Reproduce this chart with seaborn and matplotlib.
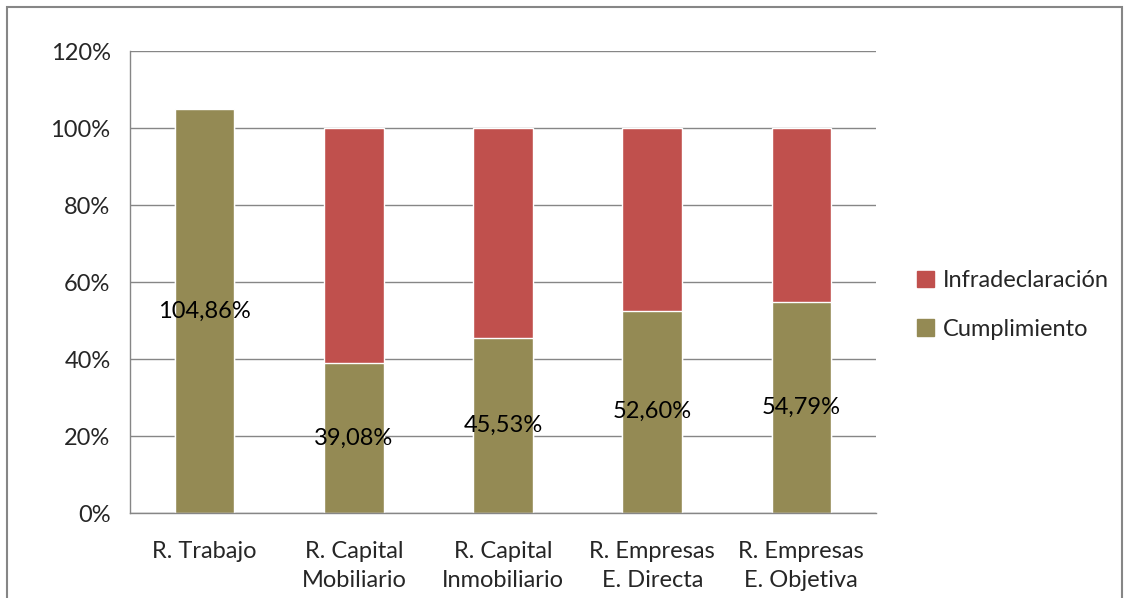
import pandas as pd
import seaborn as sns
from matplotlib import pyplot as plt
from matplotlib.patches import Patch, Rectangle
from matplotlib.ticker import FixedLocator, PercentFormatter

# Datos
categorias = ['R. Trabajo', 'R. Capital\nMobiliario', 'R. Capital\nInmobiliario',
              'R. Empresas\nE. Directa', 'R. Empresas\nE. Objetiva']
cumplimiento = [104.86, 39.08, 45.53, 52.60, 54.79]
infradeclaracion = [0.0, 60.92, 54.47, 47.40, 45.21]
etiquetas = ['104,86%', '39,08%', '45,53%', '52,60%', '54,79%']

color_cumpl = '#948A54'
color_infra = '#C0504D'
gris = '#868686'
fs = 17

sns.set_style('white')
plt.rcParams['font.family'] = ['Lato', 'DejaVu Sans']

dados = pd.DataFrame({
    'categoria': categorias,
    'cumplimiento': cumplimiento,
    'total': [c + i for c, i in zip(cumplimiento, infradeclaracion)],
})

fig = plt.figure(figsize=(11.31, 5.98), dpi=100)
ax = fig.add_axes([0.115, 0.142, 0.6595, 0.7726])

# Barras apiladas: total (rojo) debajo, cumplimiento (verde oliva) encima
sns.barplot(data=dados, x='categoria', y='total', color=color_infra,
            width=0.4, saturation=1, ax=ax)
sns.barplot(data=dados, x='categoria', y='cumplimiento', color=color_cumpl,
            width=0.4, saturation=1, ax=ax)

for i, (v, txt) in enumerate(zip(cumplimiento, etiquetas)):
    ax.text(i, v / 2, txt, ha='center', va='center', fontsize=fs, color='black')

ax.set_ylim(0, 120)
ax.set_xlim(-0.5, len(categorias) - 0.5)
ax.set_yticks([0, 20, 40, 60, 80, 100, 120])
ax.yaxis.set_major_formatter(PercentFormatter(decimals=0))
ax.grid(axis='y', color=gris, linewidth=1)
ax.set_axisbelow(True)

ax.set_xlabel('')
ax.set_ylabel('')
ax.tick_params(axis='x', which='major', length=0, labelsize=fs, pad=20)
for lbl in ax.get_xticklabels():
    lbl.set_linespacing(1.5)
ax.xaxis.set_minor_locator(FixedLocator([i - 0.5 for i in range(len(categorias) + 1)]))
ax.tick_params(axis='x', which='minor', length=8, color=gris, width=1, direction='out')
ax.tick_params(axis='y', length=8, color=gris, width=1, labelsize=fs, pad=6, direction='out')

for s in ['top', 'right']:
    ax.spines[s].set_visible(False)
for s in ['left', 'bottom']:
    ax.spines[s].set_color(gris)
    ax.spines[s].set_linewidth(1)

handles = [Patch(color=color_infra, label='Infradeclaración'),
           Patch(color=color_cumpl, label='Cumplimiento')]
fig.legend(handles=handles, loc='center left', bbox_to_anchor=(0.792, 0.49),
           frameon=False, fontsize=fs, handlelength=0.7, handleheight=0.7,
           handletextpad=0.4, labelspacing=1.15)

# Marco exterior del grafico
fig.patches.append(Rectangle((0.006, -0.01), 0.986, 0.998, transform=fig.transFigure,
                             fill=False, edgecolor=gris, linewidth=1.5))

fig.savefig('out.png', dpi=100)
